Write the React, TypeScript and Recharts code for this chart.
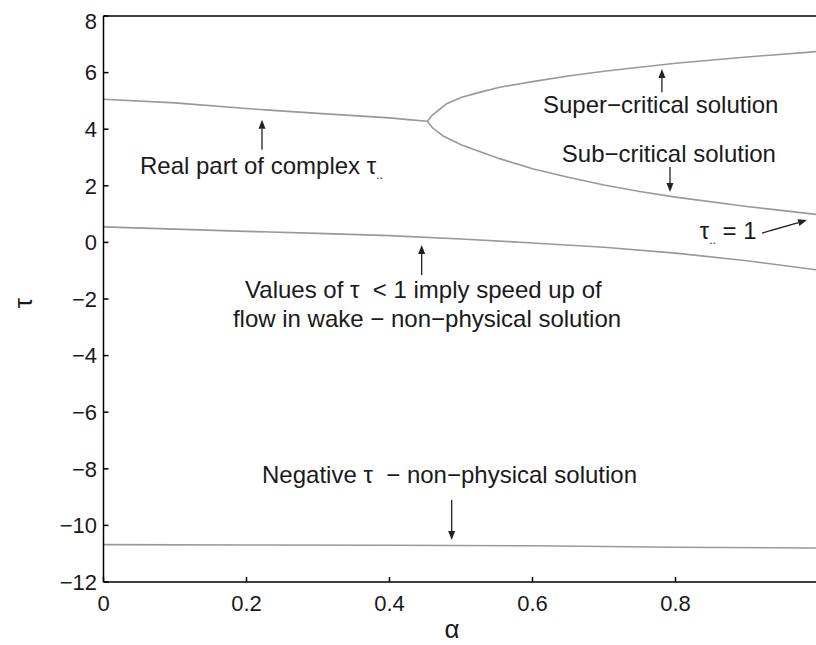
import React from 'react';
import { LineChart, Line, XAxis, YAxis, ReferenceLine, ReferenceDot } from 'recharts';

// ---- data ----
const realAlpha = [0, 0.1, 0.2, 0.3, 0.4, 0.43, 0.453];
const realTau = [5.06, 4.93, 4.73, 4.56, 4.4, 4.33, 4.28];

const superAlpha = [0.453, 0.46, 0.48, 0.5, 0.527, 0.554, 0.6, 0.65, 0.7, 0.8, 0.9, 1.0];
const superTau = [4.28, 4.5, 4.9, 5.12, 5.31, 5.48, 5.68, 5.88, 6.05, 6.33, 6.55, 6.75];

const subAlpha = [0.453, 0.46, 0.475, 0.5, 0.527, 0.554, 0.6, 0.65, 0.7, 0.75, 0.8, 0.9, 1.0];
const subTau = [4.28, 4.05, 3.76, 3.45, 3.2, 2.96, 2.6, 2.3, 2.03, 1.8, 1.6, 1.27, 0.98];

const lowAlpha = [0, 0.1, 0.2, 0.3, 0.4, 0.5, 0.6, 0.7, 0.8, 0.9, 1.0];
const lowTau = [0.55, 0.47, 0.39, 0.32, 0.24, 0.12, -0.02, -0.17, -0.38, -0.65, -0.98];

const negAlpha = [0, 0.2, 0.4, 0.6, 0.8, 1.0];
const negTau = [-10.68, -10.69, -10.7, -10.72, -10.77, -10.8];

const xTicks = [0, 0.2, 0.4, 0.6, 0.8, 1];
const yTicks = [-12, -10, -8, -6, -4, -2, 0, 2, 4, 6, 8];

// annotation arrows (data coordinates: tail -> tip)
const arrows = [
  { from: [0.2217, 3.27], to: [0.2217, 4.33] },
  { from: [0.781, 5.31], to: [0.781, 6.13] },
  { from: [0.7923, 2.66], to: [0.7923, 1.78] },
  { from: [0.921, 0.33], to: [0.984, 0.79] },
  { from: [0.445, -1.15], to: [0.445, -0.09] },
  { from: [0.487, -9.1], to: [0.487, -10.52] },
];

// annotation texts (data coordinates of text start / baseline)
const notes = [
  { x: 0.051, y: 2.42, kind: 'real', text: 'Real part of complex τ' },
  { x: 0.6147, y: 4.57, kind: 'plain', text: 'Super−critical solution' },
  { x: 0.641, y: 2.84, kind: 'plain', text: 'Sub−critical solution' },
  { x: 0.834, y: 0.12, kind: 'tau1', text: 'τ' },
  { x: 0.198, y: -1.96, kind: 'plain', text: 'Values of τ  < 1 imply speed up of' },
  { x: 0.181, y: -2.98, kind: 'plain', text: 'flow in wake − non−physical solution' },
  { x: 0.2217, y: -8.5, kind: 'plain', text: 'Negative τ  − non−physical solution' },
];

const zip = (a: number[], t: number[]) => a.map((v, i) => ({ alpha: v, tau: t[i] }));
const series = [
  zip(realAlpha, realTau),
  zip(superAlpha, superTau),
  zip(subAlpha, subTau),
  zip(lowAlpha, lowTau),
  zip(negAlpha, negTau),
];

const FONT = '"Liberation Sans", Arial, Helvetica, sans-serif';
const TXT = '#1a1a1a';
const NOTE_FS = 24;

const Arrow = (p: any) => {
  const { x1, y1, x2, y2 } = p;
  const dx = x2 - x1;
  const dy = y2 - y1;
  const len = Math.sqrt(dx * dx + dy * dy) || 1;
  const ux = dx / len;
  const uy = dy / len;
  const hl = 9;
  const hw = 3.5;
  const bx = x2 - ux * hl;
  const by = y2 - uy * hl;
  const pts = `${x2},${y2} ${bx - uy * hw},${by + ux * hw} ${bx + uy * hw},${by - ux * hw}`;
  return (
    <g>
      <line x1={x1} y1={y1} x2={bx} y2={by} stroke="#222" strokeWidth={1.3} />
      <polygon points={pts} fill="#222" />
    </g>
  );
};

const makeNote = (n: any) => (p: any) => {
  const { cx, cy } = p;
  if (n.kind === 'real') {
    return (
      <text x={cx} y={cy} fontFamily={FONT} fontSize={NOTE_FS} fill={TXT} style={{ whiteSpace: 'pre' }}>
        {n.text}
        <tspan fontSize={12} dy={5}>..</tspan>
      </text>
    );
  }
  if (n.kind === 'tau1') {
    return (
      <text x={cx} y={cy} fontFamily={FONT} fontSize={NOTE_FS} fill={TXT} style={{ whiteSpace: 'pre' }}>
        {n.text}
        <tspan fontSize={12} dy={5}>..</tspan>
        <tspan fontSize={NOTE_FS} dy={-5}>{' = 1'}</tspan>
      </text>
    );
  }
  return (
    <text x={cx} y={cy} fontFamily={FONT} fontSize={NOTE_FS} fill={TXT} style={{ whiteSpace: 'pre' }}>
      {n.text}
    </text>
  );
};

const fmtY = (v: number) => String(v).replace('-', '−');
const fmtX = (v: number) => (v === 1 ? '' : String(v));

export default function App() {
  const tickStyle = { fontFamily: FONT, fontSize: 22, fill: TXT };
  return (
    <div
      style={{
        position: 'fixed',
        left: 8,
        top: 8,
        width: 808,
        height: 637,
        overflow: 'hidden',
        background: '#fff',
      }}
    >
      <LineChart width={830} height={637} margin={{ top: 0, right: 9.5, bottom: 0, left: 0 }}>
        <XAxis
          xAxisId={0}
          type="number"
          dataKey="alpha"
          domain={[0, 1]}
          ticks={xTicks}
          tickFormatter={fmtX}
          height={63}
          tickSize={-5}
          tickMargin={18}
          stroke="#000"
          strokeWidth={1.5}
          tick={tickStyle}
          allowDataOverflow
        />
        <XAxis
          xAxisId="top"
          orientation="top"
          type="number"
          dataKey="alpha"
          domain={[0, 1]}
          ticks={xTicks}
          height={8}
          tickSize={-5}
          tick={false}
          stroke="#000"
          strokeWidth={1.5}
          allowDataOverflow
        />
        <YAxis
          yAxisId={0}
          type="number"
          domain={[-12, 8]}
          ticks={yTicks}
          tickFormatter={fmtY}
          width={95.5}
          tickSize={-5}
          tickMargin={11.5}
          stroke="#000"
          strokeWidth={1.5}
          tick={tickStyle}
          allowDataOverflow
        />
        <YAxis
          yAxisId="right"
          orientation="right"
          type="number"
          domain={[-12, 8]}
          ticks={yTicks}
          width={10}
          tickSize={-5}
          tick={false}
          stroke="#000"
          strokeWidth={1.5}
          allowDataOverflow
        />
        {series.map((d, i) => (
          <Line
            key={i}
            data={d}
            dataKey="tau"
            type="linear"
            stroke="#999999"
            strokeWidth={1.6}
            dot={false}
            activeDot={false}
            isAnimationActive={false}
          />
        ))}
        {arrows.map((a, i) => (
          <ReferenceLine
            key={'a' + i}
            segment={[
              { x: a.from[0], y: a.from[1] },
              { x: a.to[0], y: a.to[1] },
            ]}
            shape={Arrow}
            ifOverflow="visible"
          />
        ))}
        {notes.map((n, i) => (
          <ReferenceDot key={'n' + i} x={n.x} y={n.y} r={0} shape={makeNote(n)} ifOverflow="visible" />
        ))}
      </LineChart>
      <svg width={808} height={637} style={{ position: 'absolute', left: 0, top: 0, pointerEvents: 'none' }}>
        <text x={444} y={630} textAnchor="middle" fontFamily={FONT} fontSize={26} fill={TXT}>
          α
        </text>
        <text
          x={24}
          y={295}
          textAnchor="middle"
          fontFamily={FONT}
          fontSize={26}
          fill={TXT}
          transform="rotate(-90, 24, 295)"
        >
          τ
        </text>
      </svg>
    </div>
  );
}
